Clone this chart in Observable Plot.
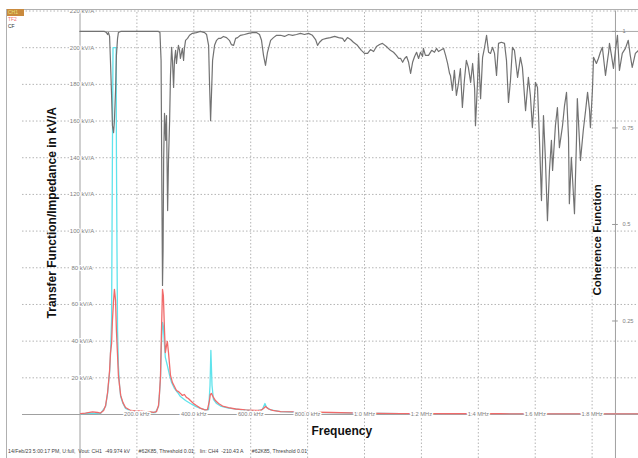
<!DOCTYPE html>
<html><head><meta charset="utf-8">
<script src="https://cdn.jsdelivr.net/npm/d3@7"></script>
<script src="https://cdn.jsdelivr.net/npm/@observablehq/plot@0.6"></script>
<style>
body{margin:0;background:#fff;}
#wrap{position:relative;width:638px;height:458px;overflow:hidden;font-family:"Liberation Sans",Arial,sans-serif;}
#border{position:absolute;left:6px;top:9px;width:700px;height:500px;border:1px solid #b0b0b0;pointer-events:none;}
#chart{position:absolute;left:0;top:0;}
.lg{position:absolute;font-size:5px;line-height:7px;font-family:"Liberation Sans",Arial,sans-serif;}
</style></head>
<body><div id="wrap"><div id="chart"></div><div id="border"></div>
<div class="lg" style="left:7px;top:9px;width:16px;height:7px;background:#c98a3e;color:#e6e27a;padding-left:1px;">CH1</div>
<div class="lg" style="left:8px;top:16px;color:#f07070;">TF2</div>
<div class="lg" style="left:8px;top:23px;color:#333;">CF</div>
</div>
<script>
// ---- Frequency axis (kHz) ----
const freqTicks = [200, 400, 600, 800, 1000, 1200, 1400, 1600, 1800];
const freqTickLabels = ["200.0 kHz","400.0 kHz","600.0 kHz","800.0 kHz","1.0 MHz","1.2 MHz","1.4 MHz","1.6 MHz","1.8 MHz"];
// ---- Transfer function axis (kV/A) ----
const tfTicks = [20, 40, 60, 80, 100, 120, 140, 160, 180, 200, 220];
const tfTickLabels = ["20 kV/A","40 kV/A","60 kV/A","80 kV/A","100 kV/A","120 kV/A","140 kV/A","160 kV/A","180 kV/A","200 kV/A","220 kV/A"];
// ---- Coherence axis ----
const cohTicks = [0.25, 0.5, 0.75, 1];
const cohTickLabels = ["0.25","0.5","0.75","1"];

// ---- TF2 (red) ----
const tfFreq = [2,19,44,62,72,83,90,97,104,107,111,114,118,121,125,128,132,135,143,151,160,178,195,213,230,248,258,269,276,279,283,286,290,293,297,300,304,307,311,315,318,325,332,339,346,353,360,367,374,381,388,399,409,423,438,448,455,458,462,469,476,487,501,522,547,581,616,634,645,652,663,677,705,775,881,986,1127,1302,1478,1654,1830,1963];
const tfValue = [0.5,0.8,1.4,1.1,0.8,2.2,4.9,12.0,24.0,33.3,38.7,51.3,62.2,68.2,62.2,45.8,32.2,21.3,10.4,6.5,3.8,2.2,1.9,1.9,1.6,1.4,1.1,1.6,4.9,10.4,21.3,43.1,68.2,64.9,45.8,33.8,37.6,39.8,33.8,26.7,21.3,17.4,15.3,13.1,12.5,11.5,10.4,10.9,9.3,8.7,7.6,6.0,4.9,3.5,2.5,2.7,7.6,10.9,11.5,9.3,7.6,6.0,4.6,3.8,3.0,2.5,2.2,2.2,3.3,4.4,3.0,2.2,1.6,1.4,1.1,0.8,0.5,0.4,0.4,0.3,0.3,0.3];

// ---- CH1 impedance trace (cyan) ----
const chFreq = [2,37,72,90,97,104,107,111,114,116,127,128,130,132,135,139,143,151,160,178,213,248,265,276,283,286,290,293,297,300,307,315,322,332,343,353,371,388,406,423,441,452,457,460,464,469,480,494,522,564,616,641,650,656,670,705,775,881,986,1127,1302,1478,1654,1830,1963];
const chValue = [0.3,0.8,0.5,4.4,11.5,22.9,32.2,51.3,144,200,200,144,89.4,45.8,26.7,15.8,9.8,6.0,3.3,1.9,1.6,1.1,1.1,4.4,19.6,37.6,50.2,48.0,37.6,31.1,26.7,21.3,17.4,14.2,12.0,9.8,7.6,6.0,4.4,3.3,2.5,2.7,15.8,34.9,15.8,8.2,6.0,4.6,3.5,2.7,1.9,2.7,6.0,3.8,2.5,1.6,1.2,1.0,0.7,0.5,0.4,0.4,0.3,0.3,0.3];

// ---- Coherence function (gray) ----
const cohFreq = [0,86,93,97,100,104,107,111,114,118,121,125,128,132,135,143,276,281,285,288,290,292,294,297,301,304,308,311,315,318,322,325,329,332,336,339,343,346,350,353,357,360,364,367,371,378,385,395,409,423,438,445,452,455,459,462,466,473,480,487,494,504,515,525,532,540,547,554,564,578,592,606,620,631,638,645,652,659,670,680,691,705,719,733,747,761,775,789,803,817,828,835,842,852,866,880,895,909,923,930,940,951,961,975,989,1000,1011,1021,1032,1042,1053,1063,1077,1091,1102,1112,1120,1127,1134,1141,1148,1155,1162,1169,1176,1183,1190,1197,1204,1207,1214,1225,1236,1246,1253,1260,1267,1278,1285,1292,1299,1302,1309,1316,1323,1330,1337,1344,1351,1358,1365,1373,1380,1387,1390,1397,1401,1408,1415,1422,1429,1436,1443,1450,1457,1464,1471,1481,1492,1499,1506,1513,1520,1527,1538,1548,1555,1566,1576,1583,1590,1601,1608,1615,1622,1629,1636,1643,1650,1657,1661,1671,1678,1685,1696,1703,1710,1717,1720,1727,1738,1745,1748,1759,1769,1777,1784,1791,1794,1801,1805,1815,1822,1829,1836,1847,1854,1858,1861,1868,1875,1882,1889,1896,1906,1917,1927,1934,1941,1952,1963];
const cohValue = [1.000,1.000,0.997,0.992,0.997,0.987,0.925,0.834,0.756,0.738,
0.769,0.847,0.938,0.982,0.997,1.000,1.000,0.997,0.925,0.562,
0.342,0.433,0.666,0.788,0.718,0.782,0.536,0.666,0.769,0.886,
0.959,0.925,0.855,0.925,0.951,0.917,0.946,0.964,0.951,0.930,
0.946,0.956,0.925,0.956,0.977,0.982,0.990,0.995,0.997,1.000,
0.997,0.992,0.964,0.873,0.769,0.834,0.925,0.964,0.977,0.982,
0.982,0.987,0.984,0.977,0.966,0.964,0.982,0.984,0.990,0.992,
0.995,0.997,0.997,0.992,0.977,0.938,0.912,0.946,0.977,0.984,
0.990,0.990,0.987,0.992,0.990,0.992,0.995,0.992,0.995,0.990,
0.979,0.964,0.972,0.979,0.982,0.984,0.987,0.984,0.982,0.974,
0.984,0.979,0.972,0.964,0.951,0.943,0.943,0.953,0.948,0.961,
0.966,0.969,0.961,0.951,0.946,0.938,0.930,0.930,0.920,0.930,
0.935,0.920,0.891,0.920,0.935,0.946,0.930,0.946,0.935,0.956,
0.938,0.938,0.951,0.946,0.956,0.948,0.951,0.956,0.938,0.917,
0.891,0.886,0.847,0.899,0.834,0.865,0.904,0.803,0.873,0.925,
0.907,0.868,0.917,0.852,0.756,0.865,0.943,0.826,0.933,0.959,
0.990,0.946,0.943,0.959,0.943,0.886,0.969,0.972,0.969,0.925,
0.816,0.873,0.959,0.951,0.881,0.933,0.907,0.795,0.881,0.834,
0.751,0.868,0.855,0.718,0.562,0.782,0.666,0.510,0.640,0.718,
0.640,0.756,0.803,0.699,0.756,0.808,0.842,0.725,0.554,0.674,
0.528,0.718,0.826,0.666,0.744,0.795,0.842,0.795,0.751,0.847,
0.933,0.917,0.930,0.946,0.959,0.886,0.925,0.946,0.969,0.938,
0.904,0.951,0.990,0.899,0.943,0.956,0.977,0.938,0.907,0.943,
0.951];

const infoText = "14/Feb/23 5:00:17 PM, U:full,  Vout: CH1  -49.974 kV      #62K85, Threshold 0.01,   Iin: CH4  -210.43 A      #62K85, Threshold 0.01";

// layout constants (data units)
const X_MAX = 1963;      // right end of the displayed span, kHz
const COH_AXIS = 1882;   // frequency where the coherence axis is drawn, kHz
const GRID_LEFT = -202;  // grid extends left of the 0 Hz axis, kHz
const GRID_BOTTOM = -24; // vertical lines extend below the zero line, kV/A
const COH_TITLE_AT = 0.46;
const FREQ_TITLE_AT = 920;
// coherence (0..1) mapped onto the kV/A scale of the shared frame
const cohPos = c => 210.5 * c - 1.64;

const zip = (a, b) => a.slice(0, Math.min(a.length, b.length)).map((f, i) => ({f, v: b[i]}));
const tfData = zip(tfFreq, tfValue);
const chData = zip(chFreq, chValue);
const cohData = zip(cohFreq, cohValue);

const font = "Liberation Sans, Arial, sans-serif";
const chart = Plot.plot({
  width: 638, height: 458,
  marginLeft: 79.5, marginRight: 0, marginTop: 10.5, marginBottom: 44,
  x: {domain: [0, X_MAX], axis: null},
  y: {domain: [0, 220], axis: null},
  style: {fontFamily: font, background: "transparent", overflow: "visible"},
  marks: [
    Plot.ruleX(freqTicks, {y1: GRID_BOTTOM, y2: 220, stroke: "#b4b4b4", strokeDasharray: "1.5,2"}),
    Plot.ruleY(tfTicks, {x1: GRID_LEFT, x2: X_MAX, stroke: "#b4b4b4", strokeDasharray: "1.5,2"}),
    Plot.ruleY([0], {x1: GRID_LEFT, x2: X_MAX, stroke: "#a0a0a0"}),
    Plot.ruleX([0], {y1: GRID_BOTTOM, y2: 220, stroke: "#a0a0a0"}),
    Plot.ruleX([COH_AXIS], {y1: GRID_BOTTOM, y2: 220, stroke: "#a0a0a0"}),
    Plot.ruleY([1], {y: c => cohPos(c), x1: 0, x2: X_MAX, stroke: "#a8a8a8"}),
    Plot.ruleY(cohTicks, {y: c => cohPos(c), x1: COH_AXIS - 10, x2: COH_AXIS + 10, stroke: "#999"}),
    Plot.line(chData, {x: "f", y: "v", stroke: "#5fe3ec", strokeWidth: 1.3}),
    Plot.line(tfData, {x: "f", y: "v", stroke: "#f06a6a", strokeWidth: 1.3}),
    Plot.line(cohData, {x: "f", y: d => cohPos(d.v), stroke: "#727272", strokeWidth: 1.2}),
    Plot.text(tfTicks, {x: 0, y: d => d, text: (d, i) => tfTickLabels[i], dx: 2, textAnchor: "middle",
      fontSize: 6, fill: "#808080", stroke: "white", strokeWidth: 2}),
    Plot.text(freqTicks, {x: d => d, y: 0, text: (d, i) => freqTickLabels[i], textAnchor: "middle",
      fontSize: 5.7, fill: "#808080", stroke: "white", strokeWidth: 3}),
    Plot.text(cohTicks, {x: COH_AXIS, y: c => cohPos(c), text: (d, i) => cohTickLabels[i], dx: 7,
      textAnchor: "start", fontSize: 5.7, fill: "#808080"}),
    Plot.text(["Transfer Function/Impedance in kV/A"], {text: d => d, frameAnchor: "left", dx: -27.5,
      rotate: -90, textAnchor: "middle", fontSize: 12, fontWeight: "bold", fill: "#111"}),
    Plot.text(["Coherence Function"], {text: d => d, x: COH_AXIS, y: cohPos(COH_TITLE_AT), dx: -18,
      rotate: -90, textAnchor: "middle", fontSize: 11.5, fontWeight: "bold", fill: "#111"}),
    Plot.text(["Frequency"], {text: d => d, x: FREQ_TITLE_AT, frameAnchor: "bottom", dy: 20,
      textAnchor: "middle", fontSize: 12, fontWeight: "bold", fill: "#111"}),
    Plot.text([infoText], {text: d => d, frameAnchor: "bottom-left", dx: -72, dy: 38,
      textAnchor: "start", fontSize: 5.2, fill: "#444"})
  ]
});
document.getElementById("chart").appendChild(chart);
</script>
</body></html>
